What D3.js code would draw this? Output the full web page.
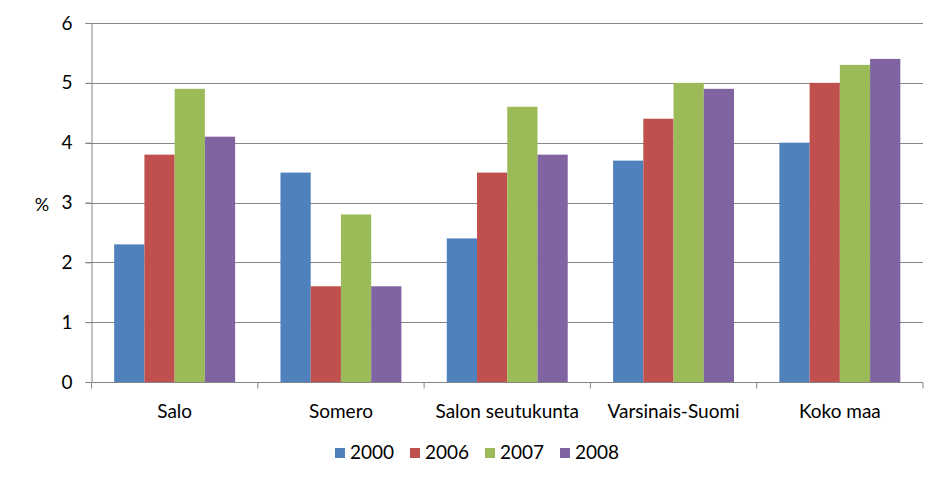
<!DOCTYPE html>
<html lang="en">
<head>
<meta charset="UTF-8">
<title>Salo bar chart</title>
<script src="https://d3js.org/d3.v7.min.js"></script>
<style>
	body { margin: 0; background: #fff; }
	svg text { font-family: Lato, "Open Sans", sans-serif; fill: #000; }
</style>
</head>
<body>
<div id="chart"></div>
<script>
	const categories = ["Salo", "Somero", "Salon seutukunta", "Varsinais-Suomi", "Koko maa"];
	const years = ["2000", "2006", "2007", "2008"];
	const v2000 = [2.3, 3.5, 2.4, 3.7, 4.0];
	const v2006 = [3.8, 1.6, 3.5, 4.4, 5.0];
	const v2007 = [4.9, 2.8, 4.6, 5.0, 5.3];
	const v2008 = [4.1, 1.6, 3.8, 4.9, 5.4];
	const yTicks = [0, 1, 2, 3, 4, 5, 6];
	const colors = ["#4F81BD", "#C0504D", "#9BBB59", "#8064A2"];

	const series = [v2000, v2006, v2007, v2008];
	const width = 947, height = 485;
	const plotLeft = 91.5, plotRight = 923, plotTop = 23, plotBottom = 382;

	const svg = d3.select("#chart").append("svg")
		.attr("width", width)
		.attr("height", height);

	const x0 = d3.scaleBand().domain(categories).range([plotLeft, plotRight]).paddingInner(0).paddingOuter(0);
	// excel gap width 150% -> bars take 4/(4+1.5) of a group
	const groupPad = x0.bandwidth() * 1.5 / 5.5 / 2;
	const x1 = d3.scaleBand().domain(years).range([groupPad, x0.bandwidth() - groupPad]);
	const y = d3.scaleLinear().domain([0, 6]).range([plotBottom, plotTop]);

	// gridlines
	svg.append("g").selectAll("line")
		.data(yTicks.slice(1))
		.enter().append("line")
		.attr("x1", plotLeft - 6).attr("x2", plotRight)
		.attr("y1", d => Math.round(y(d)) + 0.5).attr("y2", d => Math.round(y(d)) + 0.5)
		.attr("stroke", "#868686").attr("stroke-width", 1);

	// bars
	const rows = categories.map((c, i) => ({ cat: c, vals: series.map((s, j) => ({ year: years[j], v: s[i], color: colors[j] })) }));
	svg.append("g").selectAll("g")
		.data(rows)
		.enter().append("g")
		.attr("transform", d => `translate(${x0(d.cat)},0)`)
		.selectAll("rect")
		.data(d => d.vals)
		.enter().append("rect")
		.attr("x", d => x1(d.year))
		.attr("width", x1.bandwidth())
		.attr("y", d => y(d.v))
		.attr("height", d => y(0) - y(d.v))
		.attr("fill", d => d.color);

	// y axis
	const yAxis = svg.append("g")
		.attr("transform", `translate(${plotLeft},0)`)
		.call(d3.axisLeft(y).tickValues(yTicks).tickSize(6).tickPadding(13).tickFormat(d3.format("d")));
	yAxis.select(".domain").attr("stroke", "#868686");
	yAxis.selectAll(".tick line").attr("stroke", "#868686");
	yAxis.selectAll("text").style("font-size", "19px");

	// x axis
	const xAxis = svg.append("g")
		.attr("transform", `translate(0,${Math.round(y(0)) + 0.5})`);
	xAxis.append("line").attr("x1", plotLeft - 6).attr("x2", plotRight).attr("stroke", "#868686");
	const bounds = categories.map(c => x0(c)).concat([plotRight]);
	xAxis.selectAll(".sep").data(bounds).enter().append("line")
		.attr("x1", d => d).attr("x2", d => d)
		.attr("y1", 0).attr("y2", 6)
		.attr("stroke", "#868686");
	xAxis.selectAll(".lab").data(categories).enter().append("text")
		.attr("x", d => x0(d) + x0.bandwidth() / 2)
		.attr("y", 35)
		.attr("text-anchor", "middle")
		.style("font-size", "19px")
		.text(d => d);

	// y label
	svg.append("text")
		.attr("x", 42).attr("y", 211)
		.attr("text-anchor", "middle")
		.style("font-size", "18px")
		.text("%");

	// legend
	const legend = svg.append("g").selectAll("g")
		.data(years)
		.enter().append("g")
		.attr("transform", (d, i) => `translate(${335 + i * 75},448)`);
	legend.append("rect").attr("width", 10).attr("height", 10).attr("fill", (d, i) => colors[i]);
	legend.append("text").attr("x", 15).attr("y", 11).style("font-size", "19px").text(d => d);
</script>
</body>
</html>
